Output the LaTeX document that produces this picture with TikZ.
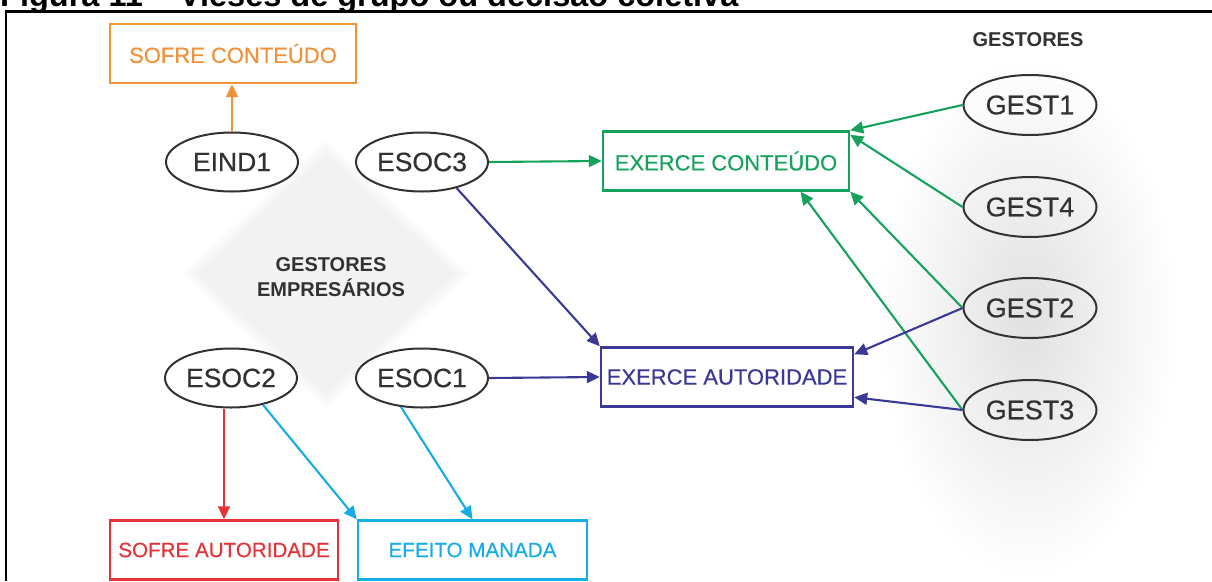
\documentclass[tikz,border=0pt]{standalone}
\usepackage{fontspec}
\setmainfont{Liberation Sans}
\newfontfamily\labelfont{Liberation Sans}[FakeBold=0.5]
\usetikzlibrary{arrows.meta,calc,shapes.geometric}

\definecolor{cOrange}{RGB}{240,145,60}
\definecolor{cGreen}{RGB}{22,162,92}
\definecolor{cNavy}{RGB}{58,58,150}
\definecolor{cRed}{RGB}{228,52,58}
\definecolor{cCyan}{RGB}{22,172,230}
\definecolor{cInk}{RGB}{50,50,50}

\tikzset{
  agent/.style={ellipse, draw=cInk, line width=2pt, inner sep=0pt,
    minimum width=132pt, minimum height=59pt, text=cInk,
    font=\labelfont\fontsize{26.5}{28}\selectfont},
  eagent/.style={agent, fill=white},
  gagent/.style={agent, minimum width=133pt, minimum height=60pt,
    font=\labelfont\fontsize{27}{28}\selectfont},
  effect/.style={rectangle, draw=#1, text=#1, line width=2.4pt, inner sep=0pt,
    minimum height=59pt, font=\labelfont\fontsize{22}{25}\selectfont},
  smalleffect/.style={effect=#1, font=\labelfont\fontsize{20.6}{25}\selectfont},
  link/.style={draw=#1, line width=2.1pt, -{Triangle[length=13pt,width=12pt]}},
  grouplabel/.style={text=cInk, align=center, inner sep=0pt,
    font=\bfseries\fontsize{20}{25}\selectfont}
}

\begin{document}
\begin{tikzpicture}[x=1pt,y=-1pt]
\useasboundingbox (0,0) rectangle (1212,581);
\clip (0,0) rectangle (1212,581);

% caption line, cut by the frame
\node[anchor=base west, inner sep=0pt, font=\bfseries\fontsize{32.5}{36}\selectfont]
  (caption) at (0,6.5) {Figura 11 – Vieses de grupo ou decisão coletiva};
\fill[white] (0,9.5) rectangle (1212,581);

% soft halo behind the managers
\shade[inner color=black!12, outer color=white] (1028,318) ellipse [x radius=150, y radius=262];

% soft diamond behind the entrepreneurs
\foreach \s in {1.00,0.99,...,0.88}{
  \fill[black, opacity=0.0042, shift={(326,274)}, scale=\s]
    (0,-136) -- (146,0) -- (0,136) -- (-146,0) -- cycle;
}

% frame
\draw[line width=2.5pt] (1212,11.3) -- (6,11.3) -- (6,581);

% group labels
\node[grouplabel] (gemp) at (331,277) {GESTORES\\EMPRESÁRIOS};
\node[grouplabel] (gges) at (1028,40) {GESTORES};

% effects
\node[effect=cOrange, minimum width=246pt] (sc) at (233,53.5) {SOFRE CONTEÚDO};
\node[effect=cGreen, minimum width=246pt] (ec) at (726,161) {EXERCE CONTEÚDO};
\node[effect=cNavy, minimum width=252pt] (ea) at (727,377) {EXERCE AUTORIDADE};
\node[smalleffect=cRed, minimum width=228pt] (sa) at (224,550) {SOFRE AUTORIDADE};
\node[smalleffect=cCyan, minimum width=229pt] (em) at (472.5,550) {EFEITO MANADA};

% entrepreneurs
\node[eagent] (eind1) at (232,162) {EIND1};
\node[eagent] (esoc3) at (422,162) {ESOC3};
\node[eagent] (esoc2) at (231,378) {ESOC2};
\node[eagent] (esoc1) at (422,378) {ESOC1};

% managers
\node[gagent] (g1) at (1030,105) {GEST1};
\node[gagent] (g4) at (1030,207) {GEST4};
\node[gagent] (g2) at (1030,308) {GEST2};
\node[gagent] (g3) at (1030,410) {GEST3};

% connectors
\draw[link=cOrange] (eind1.north) -- (sc.south -| eind1.north);
\draw[link=cGreen] (esoc3.east) -- (ec.west);
\draw[link=cNavy] (esoc3.-37) -- (ea.north west);
\draw[link=cNavy] (esoc1.east) -- (ea.west);
\draw[link=cRed] (sa.north |- esoc2.south) -- (sa.north);
\draw[link=cCyan] (esoc2.-40) -- (em.north west);
\draw[link=cCyan] (esoc1.-126) -- (em.north);

\draw[link=cGreen] (g1.west) -- (ec.north east);
\draw[link=cGreen] (g4.west) -- ($(ec.north east)!0.04!(ec.south east)+(0,2)$);
\draw[link=cGreen] (g2.west) -- (ec.south east);
\draw[link=cGreen] (g3.west) -- ($(ec.south west)!0.8!(ec.south east)$);
\draw[link=cNavy] (g2.west) -- ($(ea.north east)!0.13!(ea.south east)$);
\draw[link=cNavy] (g3.west) -- ($(ea.north east)!0.83!(ea.south east)$);
\end{tikzpicture}
\end{document}
